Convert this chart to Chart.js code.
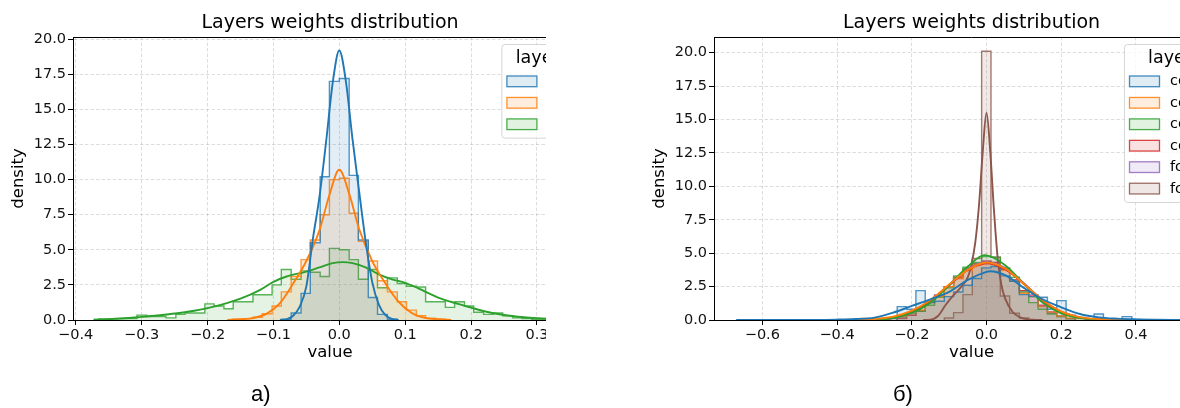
<!DOCTYPE html>
<html><head><meta charset="utf-8">
<script src="https://cdn.jsdelivr.net/npm/chart.js@4.4.0/dist/chart.umd.min.js"></script>
<style>
html,body{margin:0;padding:0;background:#fff;width:1180px;height:408px;overflow:hidden;}
.clip{position:absolute;top:0;height:408px;overflow:hidden;}
#clipA{left:0;width:546px;}
#clipB{left:641px;width:539px;}
.clip canvas{position:absolute;left:0;top:0;}
.sub{position:absolute;top:381px;font-family:'Liberation Sans',Arial,sans-serif;font-size:22px;line-height:26px;color:#000;}
</style></head><body>
<div class="clip" id="clipA"><canvas id="cA" width="600" height="408" style="width:600px;height:408px"></canvas></div>
<div class="clip" id="clipB"><canvas id="cB" width="600" height="408" style="width:600px;height:408px"></canvas></div>
<div class="sub" style="left:251px">a)</div>
<div class="sub" style="left:893px">б)</div>
<script>
// ---------- shared text ----------
const chartTitle = 'Layers weights distribution';
const xTitle = 'value';
const yTitle = 'density';
const legendTitle = 'layer';

// ---------- left panel (a) ----------
const leftLabels = ['fc1', 'fc2', 'fc3'];
const leftXTicks = [-0.4, -0.3, -0.2, -0.1, 0.0, 0.1, 0.2, 0.3];
const leftYTicks = [0, 2.5, 5, 7.5, 10, 12.5, 15, 17.5, 20];
const leftEdges = [-0.365,-0.350,-0.336,-0.321,-0.307,-0.292,-0.277,-0.263,-0.248,-0.234,-0.219,-0.204,-0.190,-0.175,-0.161,-0.146,-0.131,-0.117,-0.102,-0.088,-0.073,-0.058,-0.044,-0.029,-0.015,0.000,0.015,0.029,0.044,0.058,0.073,0.088,0.102,0.117,0.131,0.146,0.161,0.175,0.190,0.204,0.219,0.234,0.248,0.263,0.277,0.292,0.307,0.321];
const leftHist1 = [0,0,0,0,0,0,0,0,0,0, 0,0,0,0,0,0,0,0,0,0.05, 0.5,1.9,5.5,10.2,17.0,17.2,10.3,5.7,1.6,0.4, 0.05,0,0,0,0,0,0,0,0,0, 0,0,0,0,0,0,0];
const leftHist2 = [0,0,0,0,0,0,0,0,0,0, 0,0,0,0,0.05,0.1,0.2,0.45,1.0,2.0, 3.1,4.3,5.7,7.5,10.0,10.1,7.6,5.6,4.2,2.8, 2.0,1.3,0.7,0.3,0.12,0.05,0,0,0,0, 0,0,0,0,0,0,0];
const leftHist3 = [0.08,0.08,0.10,0.10,0.35,0.25,0.25,0.15,0.40,0.50, 0.50,1.15,1.00,0.80,1.30,1.30,1.80,1.80,2.50,3.60, 2.90,3.50,3.40,3.10,5.10,5.00,4.30,2.90,3.60,2.30, 3.00,2.60,2.40,2.35,1.30,1.30,0.90,1.30,1.00,0.55, 0.40,0.50,0.30,0.15,0.10,0.05,0.05];
const leftKde1X = [-0.09,-0.08,-0.07,-0.06,-0.05,-0.04,-0.03,-0.02,-0.01,0,0.01,0.02,0.03,0.04,0.05,0.06,0.07,0.08,0.09];
const leftKde1Y = [0,0.05,0.3,0.95,2.4,5.8,8.8,12.7,16.9,19.2,17.0,12.9,9.2,5.6,2.7,1.1,0.35,0.08,0];
const leftKde2X = [-0.17,-0.15,-0.13,-0.11,-0.09,-0.07,-0.05,-0.03,-0.015,0,0.015,0.03,0.05,0.07,0.09,0.11,0.13,0.15,0.17];
const leftKde2Y = [0,0.05,0.15,0.45,1.2,2.6,4.2,6.4,8.9,10.7,9.0,6.5,4.2,2.6,1.3,0.5,0.15,0.05,0];
const leftKde3X = [-0.373,-0.35,-0.32,-0.3,-0.28,-0.25,-0.22,-0.2,-0.18,-0.15,-0.12,-0.1,-0.08,-0.05,-0.03,-0.01,0.005,0.02,0.04,0.06,0.08,0.1,0.12,0.15,0.18,0.2,0.22,0.25,0.28,0.3,0.33,0.36,0.4];
const leftKde3Y = [0.02,0.06,0.14,0.22,0.3,0.46,0.66,0.85,1.08,1.52,2.15,2.72,3.1,3.45,3.75,4.05,4.12,4.05,3.75,3.25,2.9,2.65,2.25,1.6,1.15,0.88,0.62,0.36,0.2,0.13,0.06,0.03,0.01];

// ---------- right panel (б) ----------
const rightLabels = ['conv1', 'conv2', 'conv3', 'conv4', 'fc1', 'fc2'];
const rightXTicks = [-0.6, -0.4, -0.2, 0.0, 0.2, 0.4, 0.6];
const rightYTicks = [0, 2.5, 5, 7.5, 10, 12.5, 15, 17.5, 20];
const rightEdges = [-0.339,-0.314,-0.289,-0.264,-0.239,-0.214,-0.189,-0.164,-0.139,-0.113,-0.088,-0.063,-0.038,-0.013,0.012,0.037,0.062,0.088,0.113,0.138,0.163,0.188,0.213,0.238,0.263,0.288,0.313,0.338,0.363,0.389,0.414];
const rightHist1 = [0.03,0.03,0.05,0.10,1.00,0.80,2.20,1.35,1.40,1.75,2.10,2.60,3.10,3.90,4.00,3.30,2.90,1.90,1.75,1.70,0.80,1.45,0.35,0.20,0.10,0.45,0.05,0.05,0.25,0.05];
const rightHist2 = [0.12,0.03,0.05,0.12,0.30,0.55,0.75,1.45,1.75,2.50,3.10,3.70,4.10,4.30,4.20,3.70,2.90,2.00,1.75,1.00,0.60,0.30,0.15,0.10,0.05,0.05,0.03,0.03,0.02,0.02];
const rightHist3 = [0,0,0,0,0.25,0.50,0.65,1.10,1.70,2.40,3.30,3.95,4.30,4.75,4.70,3.90,3.20,2.10,1.30,0.80,0.45,0.25,0.10,0,0,0,0,0,0,0];
const rightHist4 = [0,0,0,0,0.15,0.35,0.70,1.30,1.80,2.50,3.20,3.80,4.20,4.40,4.30,3.80,3.00,2.20,1.80,1.10,0.60,0.30,0.10,0,0,0,0,0,0,0];
const rightHist5 = [0,0,0,0,0.10,0.35,0.65,1.30,1.90,2.50,3.10,3.80,4.20,4.40,4.30,3.80,3.00,2.20,1.90,1.00,0.50,0.25,0.10,0,0,0,0,0,0,0];
const rightHist6 = [0,0,0,0,0,0,0,0,0,0.15,0.55,1.90,4.60,20.10,4.70,1.80,0.50,0.15,0,0,0,0,0,0,0,0,0,0,0,0];
const rightKde1X = [-0.67,-0.6,-0.5,-0.4,-0.35,-0.3,-0.25,-0.2,-0.15,-0.1,-0.05,0,0.01,0.05,0.1,0.15,0.2,0.25,0.3,0.35,0.4,0.45,0.5,0.55,0.62];
const rightKde1Y = [0,0.005,0.01,0.03,0.07,0.18,0.55,1.05,1.55,2.1,3.0,3.6,3.65,3.35,2.4,1.55,0.95,0.45,0.2,0.1,0.05,0.02,0.01,0.01,0];
const rightKde2X = [-0.4,-0.35,-0.3,-0.25,-0.2,-0.15,-0.1,-0.05,0,0.05,0.1,0.15,0.2,0.25,0.3,0.35,0.4,0.5,0.6];
const rightKde2Y = [0,0.02,0.08,0.25,0.7,1.5,2.65,3.75,4.3,3.85,2.7,1.5,0.65,0.22,0.07,0.02,0.01,0,0];
const rightKde3X = [-0.33,-0.3,-0.25,-0.2,-0.15,-0.1,-0.05,-0.005,0.05,0.1,0.15,0.2,0.25,0.3,0.35];
const rightKde3Y = [0,0.05,0.15,0.55,1.3,2.6,4.0,4.85,4.1,2.7,1.3,0.5,0.15,0.04,0];
const rightKde4X = [-0.33,-0.3,-0.25,-0.2,-0.15,-0.1,-0.05,0,0.05,0.1,0.15,0.2,0.25,0.3,0.35];
const rightKde4Y = [0,0.03,0.15,0.6,1.4,2.6,3.75,4.25,3.8,2.7,1.45,0.6,0.18,0.04,0];
const rightKde5X = [-0.33,-0.3,-0.25,-0.2,-0.15,-0.1,-0.05,0,0.05,0.1,0.15,0.2,0.25,0.3,0.35];
const rightKde5Y = [0,0.03,0.14,0.55,1.35,2.6,3.8,4.35,3.9,2.75,1.45,0.6,0.18,0.04,0];
const rightKde6X = [-0.17,-0.15,-0.13,-0.11,-0.09,-0.07,-0.05,-0.04,-0.03,-0.02,-0.01,0,0.01,0.02,0.03,0.04,0.05,0.07,0.09,0.11,0.13,0.15];
const rightKde6Y = [0,0.02,0.3,1.1,1.8,2.4,3.2,4.2,5.8,8.6,12.6,15.5,12.6,8.2,4.6,2.6,1.6,0.6,0.2,0.05,0.01,0];

const palette = ['31,119,180','255,127,14','44,160,44','214,39,40','148,103,189','140,86,75'];
const FONT = "'DejaVu Sans', 'Liberation Sans', sans-serif";

function rgba(c, a) { return 'rgba(' + c + ',' + a + ')'; }

function histPoints(edges, h) {
  let a = 0; while (a < h.length && h[a] === 0) a++;
  let b = h.length - 1; while (b >= 0 && h[b] === 0) b--;
  const pts = [{x: edges[a], y: 0}];
  for (let j = a; j <= b; j++) pts.push({x: edges[j], y: h[j]});
  pts.push({x: edges[b + 1], y: 0});
  return pts;
}
function kdePoints(xs, ys) { return xs.map((x, i) => ({x: x, y: ys[i]})); }
function fmt(v) { const s = Math.abs(v).toFixed(1); return (v < -1e-9 ? '\u2212' : '') + s; }

const boxLegend = {
  id: 'boxLegend',
  afterDraw(chart, args, o) {
    const {ctx, chartArea} = chart;
    const n = o.labels.length;
    const w = o.boxWidth;
    const top = chartArea.top + 7;
    const left = chartArea.right - 13 - w;
    const h = 32 + (n - 1) * 21.45 + 10.7 + 8;
    ctx.save();
    ctx.beginPath();
    ctx.roundRect(left + 0.5, top + 0.5, w, h, 3);
    ctx.fillStyle = 'rgba(255,255,255,0.8)';
    ctx.fill();
    ctx.strokeStyle = '#d6d6d6';
    ctx.lineWidth = 1;
    ctx.stroke();
    ctx.fillStyle = '#000';
    ctx.font = '17.5px ' + FONT;
    ctx.textAlign = 'center';
    ctx.textBaseline = 'middle';
    ctx.fillText(o.title, left + w / 2, top + 14);
    ctx.font = '14.5px ' + FONT;
    ctx.textAlign = 'left';
    for (let i = 0; i < n; i++) {
      const sy = top + 32 + i * 21.45;
      const sx = left + 5.5;
      ctx.fillStyle = '#fff';
      ctx.fillRect(sx, sy, 30, 10.7);
      ctx.fillStyle = rgba(o.colors[i], 0.14);
      ctx.fillRect(sx, sy, 30, 10.7);
      ctx.strokeStyle = rgba(o.colors[i], 0.85);
      ctx.lineWidth = 1.3;
      ctx.strokeRect(sx, sy, 30, 10.7);
      ctx.fillStyle = '#000';
      ctx.fillText(o.labels[i], sx + 30 + 10.5, sy + 5.6);
    }
    ctx.restore();
  }
};
const topSpine = {
  id: 'topSpine',
  beforeDatasetsDraw(chart) {
    const {ctx, chartArea} = chart;
    ctx.save();
    ctx.strokeStyle = '#000';
    ctx.lineWidth = 1;
    ctx.beginPath();
    ctx.moveTo(chartArea.left, Math.round(chartArea.top) + 0.5);
    ctx.lineTo(chartArea.right, Math.round(chartArea.top) + 0.5);
    ctx.stroke();
    ctx.restore();
  }
};

function makeChart(canvas, cfg) {
  const datasets = [];
  cfg.kdes.forEach((k, i) => {
    datasets.push({
      label: cfg.labels[i] + ' kde', data: kdePoints(k[0], k[1]),
      borderColor: rgba(palette[i], 1), borderWidth: 1.9, pointRadius: 0,
      fill: false, cubicInterpolationMode: 'monotone', order: i
    });
  });
  cfg.hists.forEach((h, i) => {
    datasets.push({
      label: cfg.labels[i], data: histPoints(cfg.edges, h), stepped: true,
      fill: 'origin', backgroundColor: rgba(palette[i], 0.13),
      borderColor: rgba(palette[i], 0.78), borderWidth: 1.4, pointRadius: 0,
      order: 10 + i
    });
  });
  const gridCommon = {color: 'rgba(176,176,176,0.55)', lineWidth: 0.8, tickColor: '#000', tickWidth: 1, tickLength: 5};
  return new Chart(canvas, {
    type: 'line',
    data: {datasets},
    options: {
      responsive: false, animation: false, devicePixelRatio: 1,
      layout: {padding: {left: 0, right: cfg.padRight, top: 0, bottom: 40}},
      plugins: {
        legend: {display: false}, tooltip: {enabled: false},
        title: {display: true, text: chartTitle, fullSize: false, color: '#000',
          font: {family: FONT, size: 19, weight: 'normal'}, padding: {top: 12, bottom: 2.2}},
        boxLegend: {labels: cfg.labels, colors: palette, title: legendTitle, boxWidth: cfg.legendWidth}
      },
      scales: {
        x: {
          type: 'linear', min: cfg.xMin, max: cfg.xMax,
          afterBuildTicks: s => { s.ticks = cfg.xTicks.map(v => ({value: v})); },
          afterFit: s => { s.height = 48; },
          ticks: {font: {family: FONT, size: 14.5}, color: '#111', padding: 2, maxRotation: 0, autoSkip: false, callback: v => fmt(v)},
          grid: gridCommon,
          border: {display: true, color: '#000', width: 1, dash: [3.5, 2]},
          title: {display: true, text: xTitle, color: '#000', font: {family: FONT, size: 16.5}, padding: {top: 2, bottom: 5.6}}
        },
        y: {
          type: 'linear', min: 0, max: cfg.yMax,
          afterBuildTicks: s => { s.ticks = cfg.yTicks.map(v => ({value: v})); },
          afterFit: s => { s.width = 73; },
          ticks: {font: {family: FONT, size: 14.5}, color: '#111', padding: 2, autoSkip: false, callback: v => fmt(v)},
          grid: gridCommon,
          border: {display: true, color: '#000', width: 1, dash: [3.5, 2]},
          title: {display: true, text: yTitle, color: '#000', font: {family: FONT, size: 16.5}, padding: {top: 9, bottom: 0}}
        }
      }
    },
    plugins: [topSpine, boxLegend]
  });
}

makeChart(document.getElementById('cA'), {
  labels: leftLabels, edges: leftEdges,
  hists: [leftHist1, leftHist2, leftHist3],
  kdes: [[leftKde1X, leftKde1Y], [leftKde2X, leftKde2Y], [leftKde3X, leftKde3Y]],
  xTicks: leftXTicks, yTicks: leftYTicks,
  xMin: -0.4041, xMax: 0.3759, yMax: 20.16, padRight: 13, legendWidth: 72.6
});
makeChart(document.getElementById('cB'), {
  labels: rightLabels, edges: rightEdges,
  hists: [rightHist1, rightHist2, rightHist3, rightHist4, rightHist5, rightHist6],
  kdes: [[rightKde1X, rightKde1Y], [rightKde2X, rightKde2Y], [rightKde3X, rightKde3Y], [rightKde4X, rightKde4Y], [rightKde5X, rightKde5Y], [rightKde6X, rightKde6Y]],
  xTicks: rightXTicks, yTicks: rightYTicks,
  xMin: -0.7294, xMax: 0.6491, yMax: 21.17, padRight: 12, legendWidth: 92
});
</script>
</body></html>
